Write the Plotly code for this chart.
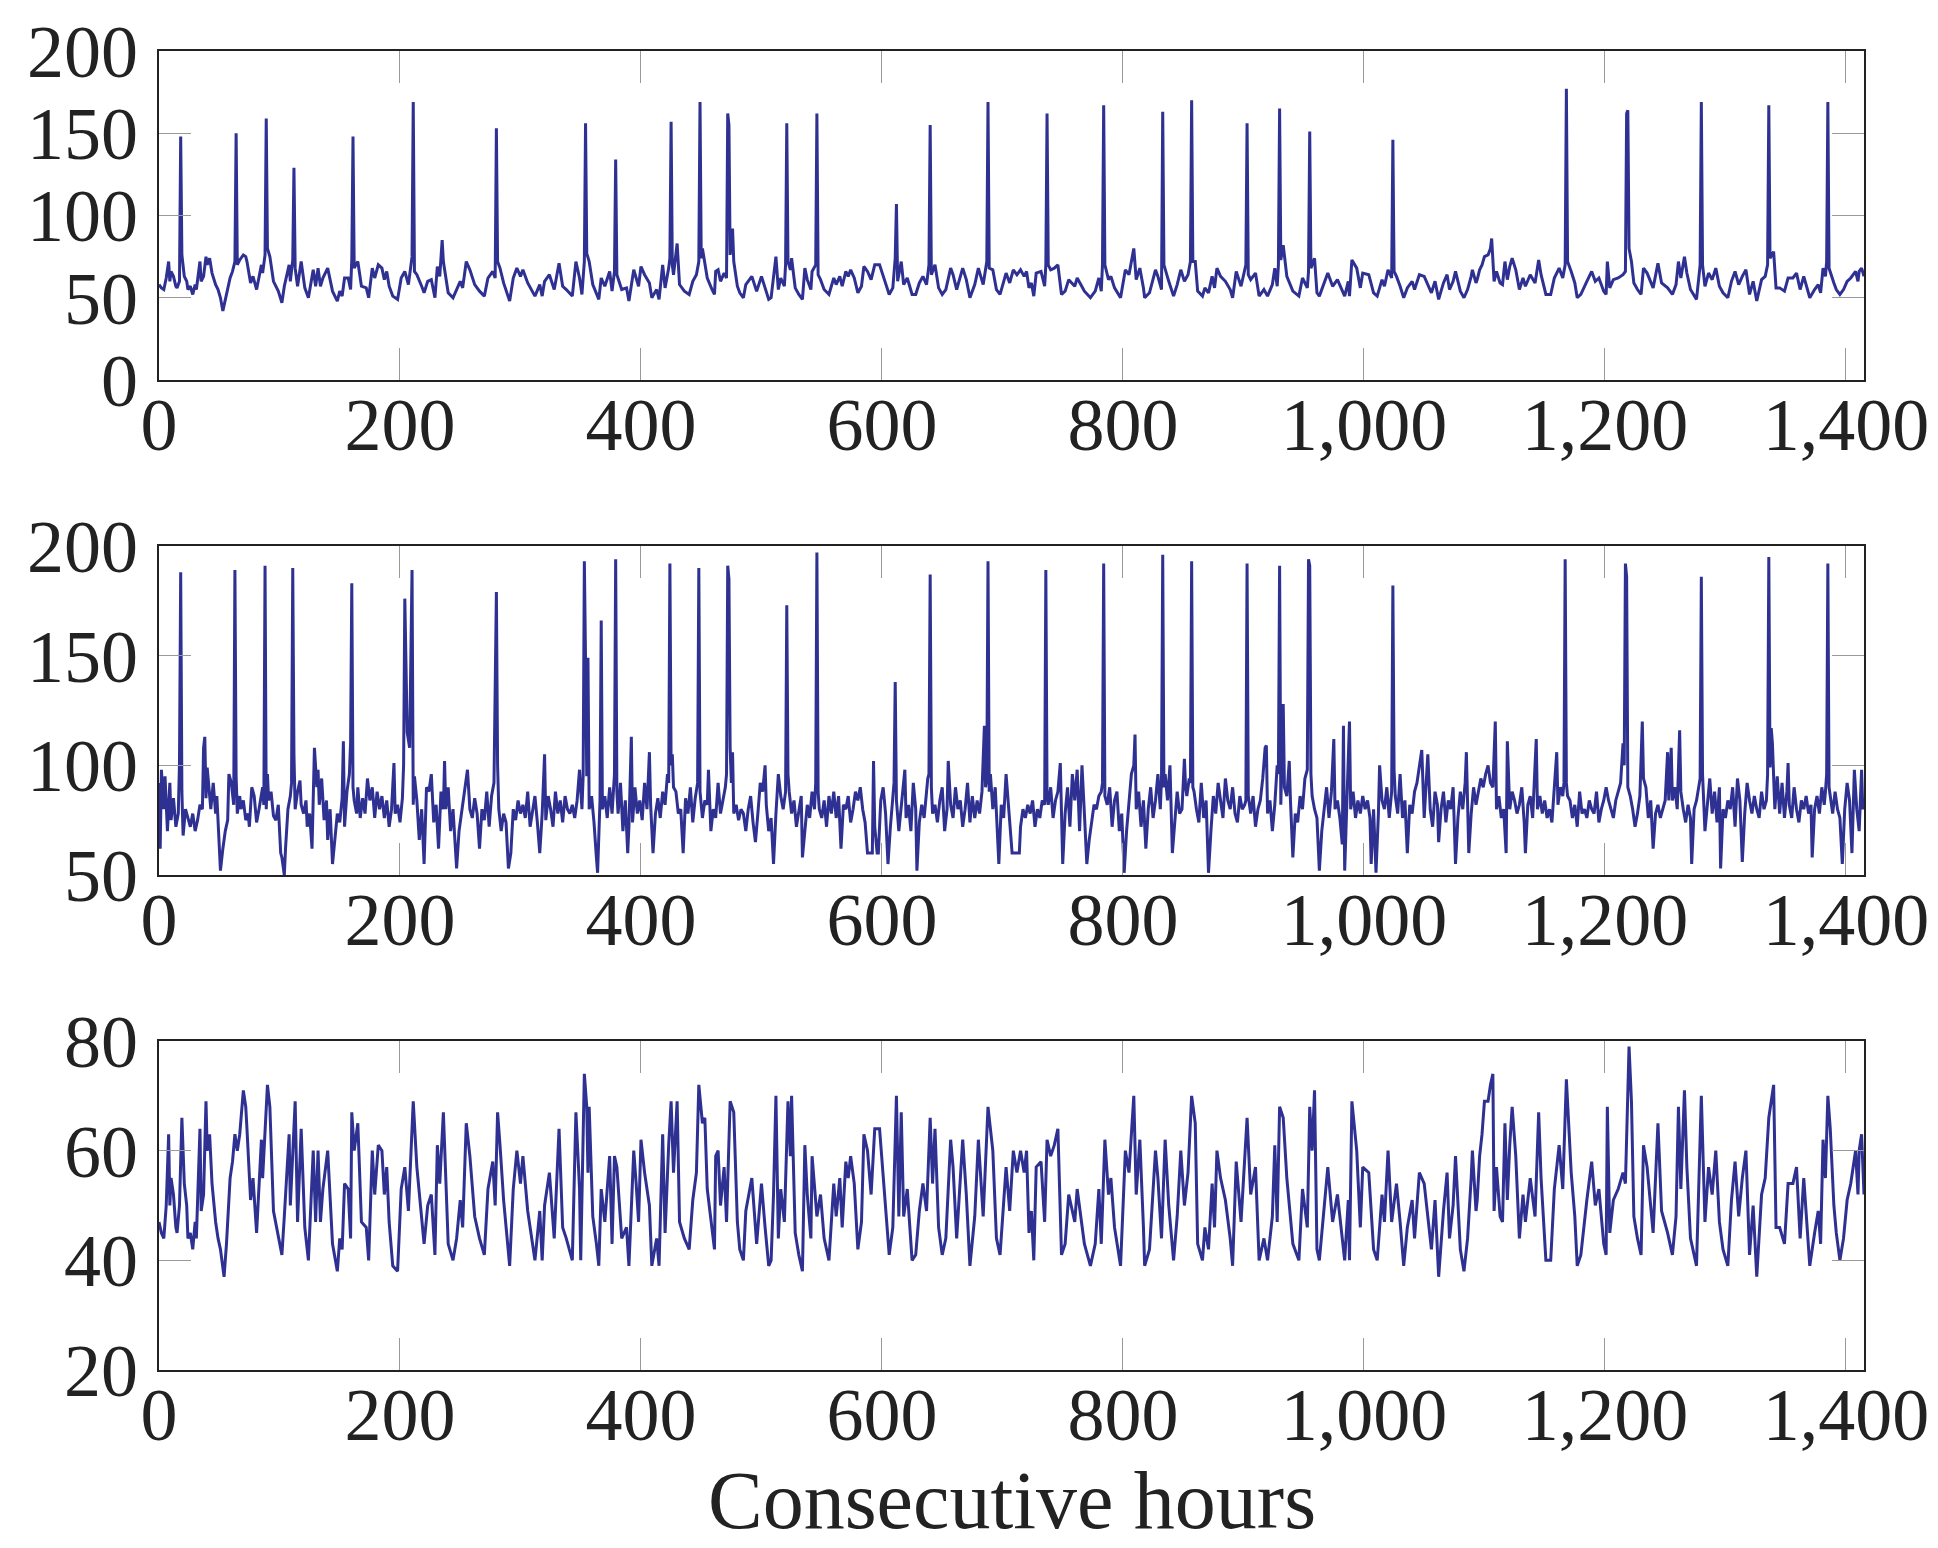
import plotly.graph_objects as go

# ---------------- data ----------------
hours_1 = [0,2,4,6,8,9,10,12,14,15,17,18,19,21,23,24,26,28,30,31,34,35,37,39,40,42,44,47,49,51,53,56,59,61,63,64,65,67,70,72,73,76,78,81,85,86,88,89,90,92,95,99,102,104,108,109,111,112,113,115,118,121,124,128,130,132,134,136,140,144,148,150,152,154,157,159,160,161,162,165,168,172,174,177,179,182,185,187,189,191,194,198,201,204,207,210,211,212,214,218,220,223,226,229,231,233,235,236,240,244,247,250,252,255,258,262,266,270,273,277,279,280,281,283,286,289,291,294,297,300,302,306,312,316,318,320,324,328,332,335,338,343,346,349,351,353,354,355,357,360,363,365,367,370,374,376,378,379,380,384,388,390,394,396,398,400,403,407,409,413,415,418,420,423,424,425,426,427,430,432,436,440,443,446,448,449,450,451,453,455,459,461,462,464,466,469,471,472,473,474,476,477,480,482,485,487,492,496,500,503,506,508,510,512,514,516,519,520,521,522,524,525,528,531,534,536,538,541,542,545,546,547,549,552,556,560,562,565,567,570,572,574,577,580,583,585,588,591,594,598,602,606,609,611,612,613,616,618,621,625,628,631,634,637,639,640,641,644,647,650,653,657,659,662,667,670,673,677,680,684,687,688,689,692,695,698,703,706,709,712,715,718,720,722,724,726,728,732,735,736,737,738,740,743,746,749,752,755,760,762,765,768,773,777,780,782,783,784,785,788,790,793,798,802,805,809,811,814,817,818,822,825,827,829,832,833,834,838,842,845,848,851,854,856,857,858,860,862,866,868,871,874,876,878,881,885,889,891,894,898,902,903,904,906,910,913,917,920,924,926,928,929,930,931,933,936,941,946,949,953,954,955,956,959,961,963,966,970,974,978,981,984,987,988,990,994,997,999,1004,1008,1011,1015,1017,1020,1023,1024,1025,1027,1030,1033,1036,1040,1042,1046,1050,1053,1056,1059,1062,1066,1069,1071,1074,1076,1080,1083,1086,1089,1090,1093,1094,1096,1098,1100,1103,1105,1106,1108,1110,1113,1115,1117,1119,1121,1123,1126,1129,1132,1134,1138,1142,1145,1147,1151,1155,1158,1162,1165,1167,1168,1169,1172,1175,1177,1180,1185,1189,1192,1195,1199,1201,1202,1204,1207,1211,1215,1217,1218,1219,1220,1222,1224,1227,1230,1232,1235,1240,1244,1247,1252,1256,1259,1261,1263,1266,1268,1271,1276,1279,1280,1281,1283,1286,1289,1292,1295,1298,1302,1305,1308,1311,1314,1317,1320,1323,1326,1330,1333,1335,1336,1337,1340,1342,1345,1349,1352,1356,1359,1362,1365,1368,1370,1374,1377,1379,1381,1383,1384,1385,1386,1390,1392,1395,1398,1401,1404,1408,1410,1411,1413,1415]
values_1 = [58,56,55,62,72,60,66,63,57,56,60,148,76,63,60,55,57,52,58,55,72,60,63,75,70,74,65,58,55,50,42,53,62,66,72,150,70,73,76,75,72,59,63,55,70,65,76,159,80,75,60,54,47,57,70,60,73,129,68,57,72,56,50,67,57,68,57,62,68,54,48,54,51,62,62,55,73,148,68,72,57,56,50,68,62,70,68,61,66,57,51,49,62,66,58,75,169,66,64,57,53,60,61,50,69,63,85,72,53,50,55,60,56,72,67,58,54,51,62,66,62,153,72,68,59,52,48,62,68,63,67,59,51,58,51,60,64,55,71,57,55,51,72,62,52,72,156,77,72,58,53,49,62,57,66,54,66,134,64,55,56,48,67,62,57,69,64,59,50,55,49,70,56,68,74,157,70,64,83,58,54,52,60,64,72,169,74,80,72,62,55,52,66,67,60,65,62,162,155,76,92,72,57,53,50,58,63,54,63,56,49,50,61,75,55,62,57,70,156,72,67,74,56,52,49,68,61,55,66,70,162,64,61,55,52,62,58,63,57,66,63,67,62,53,57,69,66,61,70,70,61,52,56,74,107,60,72,58,62,52,52,59,63,58,70,155,64,70,56,52,55,68,64,55,68,61,50,58,68,58,72,169,68,67,55,52,65,59,67,64,67,63,66,56,59,51,65,66,57,70,162,70,67,68,70,52,54,61,57,62,58,54,50,54,62,54,70,167,70,61,63,56,50,67,64,80,61,68,56,50,53,62,67,63,55,163,70,60,51,58,67,60,64,72,170,72,72,54,51,56,53,63,56,68,63,60,55,50,66,57,70,156,64,61,65,51,55,51,58,68,57,70,165,73,82,63,54,51,62,56,66,151,68,74,53,51,57,65,57,61,56,51,60,51,73,68,56,65,64,53,51,61,57,67,62,146,66,63,57,50,56,60,55,64,63,58,53,60,49,59,64,55,60,66,54,50,55,63,67,59,61,67,70,75,76,80,86,60,66,59,58,72,61,69,74,67,55,62,57,64,59,73,64,52,52,62,68,62,70,177,72,66,59,50,52,60,66,60,62,54,52,72,56,61,62,64,66,162,164,80,72,59,55,52,68,65,56,71,59,56,52,58,72,62,75,65,55,49,70,169,70,57,65,61,68,57,53,50,60,66,58,63,67,52,60,48,61,63,70,167,74,78,56,56,54,62,62,65,55,63,56,50,55,58,53,68,63,72,169,68,59,55,52,55,60,62,66,60,66,68,63]

hours_2 = [0,1,2,4,5,7,9,10,12,14,16,17,18,19,20,22,24,26,28,30,32,34,36,37,38,39,40,42,43,45,47,48,50,51,53,55,57,58,60,62,63,64,65,67,68,70,72,74,75,77,79,81,83,86,87,88,89,90,91,93,95,97,99,101,102,104,105,107,109,110,111,112,113,115,117,118,120,122,123,125,127,129,131,132,133,135,137,139,140,142,144,146,148,150,152,153,154,156,158,159,160,161,162,164,165,167,169,171,173,175,177,179,181,183,185,187,189,191,193,195,196,198,200,202,203,204,206,208,210,211,212,214,216,218,220,222,224,226,228,230,232,234,236,237,238,240,242,244,246,247,249,251,253,255,256,258,260,262,264,266,268,270,272,274,276,278,280,281,282,284,286,288,290,292,294,296,298,300,302,304,306,308,310,312,314,316,318,320,321,323,325,327,329,331,333,335,337,339,341,343,345,347,349,351,352,353,354,355,356,357,359,361,363,364,366,367,368,370,372,374,376,378,379,380,381,383,385,387,389,390,392,393,395,397,399,401,403,405,407,408,410,412,414,416,418,420,422,423,424,425,426,427,429,431,433,435,437,439,441,443,445,447,448,449,451,453,455,456,458,460,462,464,466,468,470,471,472,473,474,475,476,477,479,481,483,485,487,489,491,493,495,497,499,501,503,504,506,508,510,512,514,516,518,520,521,522,523,525,527,529,531,533,534,536,538,540,542,544,545,546,547,548,550,552,554,556,558,560,562,564,566,568,570,572,574,576,578,580,582,584,586,588,590,592,593,594,596,597,599,601,603,605,607,609,610,611,612,614,616,619,620,622,624,626,628,629,631,633,635,637,638,639,640,641,642,644,646,648,650,652,654,655,657,659,661,663,665,667,669,671,673,675,677,679,681,683,685,686,687,688,689,690,692,694,696,697,699,701,703,705,707,708,710,712,714,715,717,719,721,723,725,727,729,731,733,735,736,737,738,740,742,744,746,748,750,752,754,756,758,760,762,764,766,768,770,772,774,776,778,780,782,783,784,785,787,789,791,793,795,797,799,801,803,805,807,809,810,811,813,815,817,819,821,823,825,827,829,831,832,833,834,835,837,839,841,843,845,847,849,851,852,853,855,856,857,858,859,861,863,865,867,869,871,873,875,877,879,881,883,885,887,889,891,893,895,897,899,901,902,903,904,906,908,910,912,914,916,918,919,920,922,924,926,928,929,930,931,933,934,936,938,939,941,943,945,947,949,951,953,954,955,956,957,959,961,963,965,967,969,971,973,975,976,978,980,982,983,984,986,988,989,991,993,995,997,999,1001,1003,1005,1006,1008,1010,1012,1013,1015,1017,1019,1021,1023,1024,1025,1026,1028,1030,1032,1034,1036,1038,1040,1042,1044,1046,1048,1050,1051,1053,1055,1057,1059,1061,1062,1064,1066,1068,1070,1072,1074,1076,1078,1080,1082,1084,1085,1086,1087,1089,1091,1093,1095,1097,1099,1101,1103,1105,1107,1109,1110,1112,1114,1116,1118,1119,1121,1123,1125,1127,1129,1131,1133,1134,1136,1138,1140,1143,1144,1146,1148,1150,1152,1154,1156,1158,1160,1161,1163,1165,1166,1167,1168,1169,1171,1173,1175,1177,1179,1181,1183,1185,1187,1189,1191,1193,1195,1197,1199,1201,1203,1205,1207,1209,1211,1213,1215,1216,1217,1218,1219,1221,1223,1225,1227,1229,1231,1232,1234,1236,1238,1240,1242,1244,1246,1248,1250,1252,1253,1255,1256,1258,1260,1262,1263,1265,1267,1269,1271,1272,1274,1276,1278,1279,1280,1281,1283,1285,1287,1289,1291,1293,1295,1296,1298,1300,1302,1304,1306,1308,1310,1312,1314,1316,1318,1320,1322,1324,1326,1328,1330,1332,1334,1335,1336,1337,1338,1339,1341,1343,1345,1347,1349,1351,1352,1353,1355,1357,1359,1361,1363,1365,1367,1369,1371,1372,1374,1376,1378,1380,1382,1383,1384,1385,1386,1387,1389,1391,1393,1395,1397,1399,1401,1403,1405,1407,1409,1411,1413,1414,1415]
values_2 = [92,62,98,80,95,70,92,75,85,72,78,101,188,88,68,80,76,72,78,70,75,82,80,108,113,85,99,88,80,92,78,86,60,52,62,70,75,96,92,82,189,95,78,86,80,84,75,78,72,90,86,74,80,90,82,191,80,96,84,88,77,75,82,60,58,50,62,80,86,92,190,105,80,88,93,82,78,84,72,78,62,108,90,98,82,94,75,84,66,80,55,65,78,74,85,111,72,88,96,110,183,90,84,78,90,76,85,78,94,84,90,76,88,80,86,76,84,72,80,101,78,82,74,85,100,176,115,108,189,82,95,84,66,80,55,90,88,96,74,82,62,88,80,102,80,90,70,80,60,53,70,78,88,94,98,80,76,85,78,62,80,75,88,72,86,92,179,100,80,70,78,74,53,60,80,75,84,78,82,76,88,72,80,86,74,60,78,105,75,86,80,72,88,78,84,74,86,80,78,82,76,84,98,80,95,193,148,95,149,80,86,74,58,51,84,166,80,86,76,90,78,96,194,88,78,92,70,84,60,72,113,74,90,78,84,75,92,80,106,82,60,78,85,76,88,82,96,92,192,100,105,90,88,78,80,60,85,78,90,74,85,92,190,88,76,84,82,98,70,80,76,92,78,84,90,96,191,185,108,92,106,78,82,75,80,78,70,80,86,74,65,78,92,88,100,82,70,76,55,78,96,86,80,88,173,96,88,78,84,72,80,86,58,72,82,76,88,80,92,197,88,80,76,84,72,86,78,88,76,86,62,82,80,86,74,80,88,84,90,80,74,60,60,60,102,72,60,60,84,90,78,55,72,88,92,138,84,70,80,98,76,82,70,92,80,52,74,82,76,88,94,96,187,90,78,82,74,84,90,70,80,102,82,76,90,80,84,72,80,92,74,86,76,84,78,88,118,90,94,193,88,96,80,90,70,55,82,76,96,80,68,60,60,60,60,72,80,76,82,78,84,72,80,76,84,82,189,86,82,90,76,84,88,101,55,78,90,72,96,84,98,70,100,78,55,66,74,82,80,86,88,92,192,86,82,90,72,84,88,70,78,51,70,84,96,100,114,80,88,72,84,62,80,90,76,84,96,80,94,196,90,96,84,100,60,74,88,78,80,103,90,86,94,92,193,90,88,80,74,92,76,84,51,70,86,78,92,84,76,94,84,80,90,78,74,86,80,82,84,192,86,78,86,72,80,84,94,108,109,78,84,70,82,100,96,191,82,128,90,86,102,84,58,78,74,86,80,94,98,194,191,96,86,80,76,52,70,80,90,76,88,112,80,84,76,64,118,52,90,120,80,88,76,84,78,86,80,84,76,55,80,51,78,100,84,80,90,76,88,182,98,86,78,96,76,84,60,82,78,88,92,100,107,76,86,105,80,72,88,82,65,80,88,74,84,80,90,55,76,88,80,92,106,82,60,78,90,82,88,94,90,96,100,92,90,120,80,86,76,80,60,111,80,88,84,78,82,90,74,60,82,86,76,112,80,86,78,84,76,80,74,88,106,82,90,86,92,194,92,86,84,76,82,72,88,78,80,76,84,80,78,88,74,80,84,90,84,80,76,84,88,92,110,100,192,186,90,86,80,72,78,86,120,94,90,76,84,62,78,82,76,80,84,106,84,108,84,90,80,116,88,80,74,82,76,55,80,84,90,94,186,96,70,84,94,78,88,74,90,53,80,76,84,80,90,72,94,84,56,78,92,84,78,86,80,76,88,80,84,96,195,99,117,110,80,95,78,92,76,88,101,82,76,90,80,74,84,80,86,78,82,58,80,86,78,90,82,88,96,192,90,86,78,88,80,76,55,80,92,84,60,98,80,70,98,80,84]

hours_3 = [0,2,4,6,8,9,10,12,14,15,17,19,21,23,24,26,28,30,31,34,35,37,39,40,42,44,47,49,51,54,56,59,61,63,65,67,70,72,73,76,78,81,85,86,90,92,95,99,102,104,108,109,113,115,118,121,124,128,130,132,134,136,140,144,148,150,152,154,157,159,160,162,165,168,172,174,177,179,182,185,187,189,191,194,198,201,204,207,211,214,218,220,223,226,229,231,233,236,240,244,247,250,252,255,258,262,266,270,273,277,279,281,283,286,291,294,297,300,302,306,312,316,318,320,324,328,332,335,338,343,346,349,350,353,355,356,357,360,363,365,367,370,374,376,378,380,384,388,390,394,396,398,400,403,407,409,413,415,418,420,423,425,427,430,432,436,440,443,446,448,451,453,455,459,461,462,464,466,469,471,474,477,480,482,485,487,492,496,500,503,506,508,510,512,514,516,519,522,524,525,528,531,534,536,538,541,542,546,549,552,556,560,562,565,567,570,572,574,577,580,583,585,588,591,594,598,602,606,609,612,614,616,618,621,625,628,631,634,637,640,642,644,647,650,653,657,659,662,667,670,673,677,680,684,688,692,695,698,703,706,709,712,715,718,720,722,724,726,728,732,735,737,740,743,746,749,752,755,760,762,765,768,773,777,780,782,785,788,790,793,798,802,805,809,811,814,817,818,822,825,827,829,832,835,838,842,845,848,851,854,857,860,862,866,868,871,874,876,878,881,885,889,891,894,898,903,906,910,913,917,920,924,926,928,930,933,936,941,946,949,953,955,957,959,961,963,966,970,974,978,981,984,987,988,990,994,997,999,1004,1008,1011,1015,1017,1020,1023,1027,1030,1033,1036,1040,1042,1046,1050,1053,1056,1059,1062,1066,1069,1071,1074,1076,1080,1083,1086,1089,1090,1093,1094,1096,1098,1100,1103,1105,1107,1108,1110,1113,1115,1117,1119,1121,1123,1126,1129,1132,1134,1138,1142,1145,1147,1151,1155,1158,1162,1165,1168,1172,1175,1177,1180,1185,1189,1192,1195,1199,1201,1202,1204,1207,1211,1215,1217,1220,1222,1224,1227,1230,1232,1235,1240,1244,1247,1252,1256,1259,1261,1263,1266,1268,1271,1276,1280,1283,1286,1289,1292,1295,1298,1302,1305,1308,1311,1314,1317,1320,1323,1326,1330,1333,1336,1340,1342,1345,1349,1352,1356,1359,1362,1365,1368,1370,1374,1377,1379,1381,1383,1385,1387,1390,1392,1395,1398,1401,1404,1408,1410,1411,1413,1415]
values_3 = [47,45,44,50,63,50,55,52,46,45,50,66,54,50,44,45,42,47,44,64,49,52,69,60,63,54,47,44,42,37,43,55,58,63,60,63,71,68,64,51,55,45,62,55,72,68,49,44,41,48,63,50,69,47,64,46,40,60,47,60,47,53,60,43,38,44,42,54,53,44,67,60,65,47,46,40,60,52,61,60,52,57,47,39,38,53,57,49,69,57,47,43,50,52,41,61,54,67,43,40,44,51,46,65,59,48,44,41,53,58,50,67,61,51,39,53,60,54,59,49,40,49,40,50,56,44,64,46,44,40,67,53,40,74,68,56,68,48,43,39,53,47,59,43,59,57,44,46,39,60,54,47,62,56,50,39,44,39,63,45,61,69,56,69,47,44,42,51,56,72,65,66,53,45,42,59,60,50,57,47,69,67,47,42,40,49,55,43,54,46,39,40,52,70,44,53,47,69,59,70,45,41,38,61,52,44,59,48,52,44,40,54,48,55,46,58,55,59,54,42,47,63,60,52,64,64,52,41,46,70,48,67,48,53,40,41,49,54,49,66,54,64,46,41,44,62,57,44,62,52,39,48,62,48,68,60,44,41,57,49,60,56,60,56,60,45,49,40,57,58,47,62,59,61,64,41,43,52,47,53,48,43,39,43,53,43,62,52,55,46,39,60,56,70,52,62,46,39,42,53,60,55,44,62,50,40,48,60,50,56,70,65,43,40,46,42,54,46,60,55,51,44,39,58,47,66,52,57,40,44,40,48,61,47,68,66,55,43,40,53,46,68,60,71,42,40,47,57,47,52,46,40,51,40,69,60,46,57,56,42,40,52,47,60,47,54,47,39,46,51,44,56,54,48,42,51,37,49,56,44,50,59,42,38,44,55,60,49,51,59,63,69,69,72,74,49,57,48,47,65,51,61,68,59,44,52,47,55,48,67,55,40,40,53,61,53,73,56,48,39,41,51,58,50,53,43,41,68,45,51,53,56,54,79,69,48,44,41,61,57,45,65,49,45,41,48,68,53,71,57,44,39,70,47,57,52,60,47,42,39,51,58,48,55,60,41,50,37,52,55,66,72,46,46,43,54,54,57,44,55,45,39,45,49,43,62,55,70,64,50,45,40,44,51,54,60,52,60,63,52]

x_ticks = [0, 200, 400, 600, 800, 1000, 1200, 1400]
y_ticks_1 = [0, 50, 100, 150, 200]
y_ticks_2 = [50, 100, 150, 200]
y_ticks_3 = [20, 40, 60, 80]
x_title = "Consecutive hours"

# ---------------- figure ----------------
LINE = "#2e3192"
FONT = "Liberation Serif"
fig = go.Figure()
series = [(hours_1, values_1), (hours_2, values_2), (hours_3, values_3)]
for i, (xs, ys) in enumerate(series, start=1):
    fig.add_trace(go.Scatter(x=xs, y=ys, mode="lines",
                             line=dict(color=LINE, width=3),
                             xaxis=f"x{i}" if i > 1 else "x",
                             yaxis=f"y{i}" if i > 1 else "y",
                             showlegend=False, hoverinfo="skip"))

H = 1319.0
domains = [(990 / H, 1.0), (495 / H, 824 / H), (0.0, 329 / H)]
yranges = [[0, 200], [50, 200], [20, 80]]
yticks = [y_ticks_1, y_ticks_2, y_ticks_3]

axis_common = dict(showline=True, linecolor="#222", linewidth=2.2, mirror="allticks",
                   ticks="inside", ticklen=32, tickwidth=1.3, tickcolor="#999999",
                   showgrid=False, zeroline=False, automargin=False,
                   tickfont=dict(family=FONT, size=74, color="#222"))
layout = dict(width=1938, height=1548, paper_bgcolor="white", plot_bgcolor="white",
              margin=dict(l=151, r=82, t=43, b=186, autoexpand=False), showlegend=False)
for i in range(3):
    sx = "" if i == 0 else str(i + 1)
    layout[f"xaxis{sx}"] = dict(axis_common, domain=[0, 1], range=[0, 1415],
                                tickvals=x_ticks, tickformat=",d",
                                anchor=f"y{sx}", ticklabelstandoff=-21)
    layout[f"yaxis{sx}"] = dict(axis_common, domain=list(domains[i]), range=yranges[i],
                                tickvals=yticks[i], anchor=f"x{sx}",
                                ticklabelstandoff=4)
fig.update_layout(**layout)
fig.add_annotation(text=x_title, xref="paper", yref="paper", x=0.5, y=-0.134,
                   xanchor="center", yanchor="bottom", showarrow=False, borderpad=0,
                   font=dict(family=FONT, size=82, color="#222"))
fig.write_html("out.html")
